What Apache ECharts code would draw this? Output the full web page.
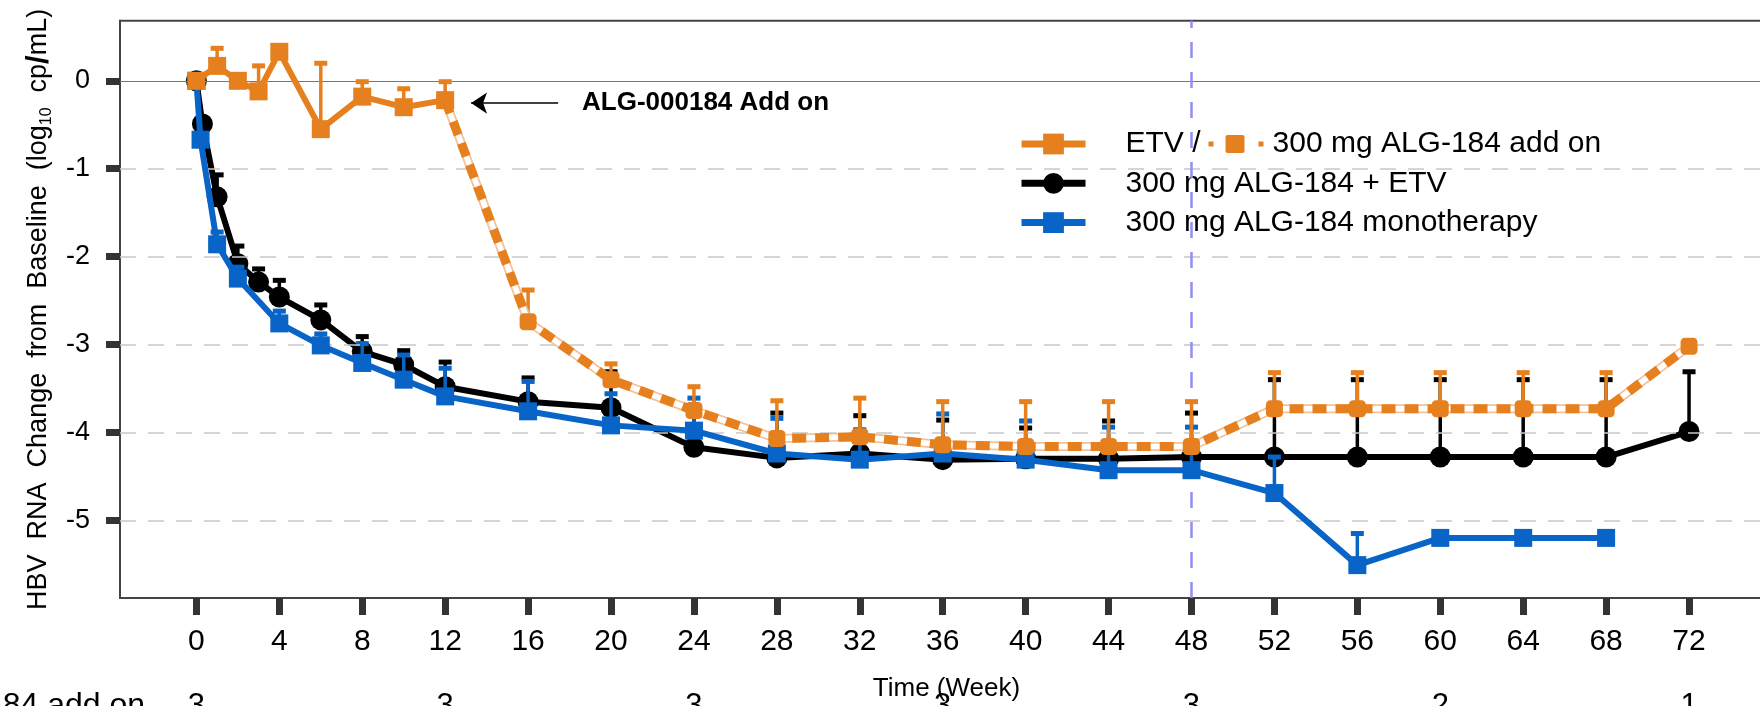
<!DOCTYPE html>
<html><head><meta charset="utf-8">
<script src="https://cdn.jsdelivr.net/npm/echarts@6/dist/echarts.min.js"></script>
<style>html,body{margin:0;padding:0;background:#fff}#c{width:1760px;height:706px}</style>
</head><body><div id="c"></div>
<script>
const FONT = '"Liberation Sans", Arial, sans-serif';
const ORANGE = '#E6801F', BLUE = '#0864C6', BLACK = '#000000';

const weekTicks = [0,4,8,12,16,20,24,28,32,36,40,44,48,52,56,60,64,68,72];
const yTicks = [0,-1,-2,-3,-4,-5];
const gridValues = [-1,-2,-3,-4,-5];
const addOnStartWeek = 48;

const etvWeeks = [0,1,2,3,4,6,8,10,12];
const etvMean  = [0,0.17,0,-0.12,0.33,-0.55,-0.18,-0.30,-0.22];
const etvUpper = [null,0.37,null,0.17,null,0.20,-0.01,-0.09,-0.01];

const addonWeeks = [12,16,20,24,28,32,36,40,44,48,52,56,60,64,68,72];
const addonMean  = [-0.22,-2.74,-3.40,-3.75,-4.07,-4.05,-4.14,-4.16,-4.16,-4.16,-3.73,-3.73,-3.73,-3.73,-3.73,-3.02];
const addonUpper = [null,-2.38,-3.22,-3.48,-3.64,-3.61,-3.65,-3.65,-3.65,-3.65,-3.32,-3.32,-3.32,-3.32,-3.32,null];

const comboWeeks = [0,0.29,1,2,3,4,6,8,10,12,16,20,24,28,32,36,40,44,48,52,56,60,64,68,72];
const comboMean  = [0,-0.49,-1.32,-2.08,-2.29,-2.46,-2.72,-3.08,-3.23,-3.48,-3.65,-3.72,-4.17,-4.29,-4.24,-4.31,-4.30,-4.30,-4.28,-4.28,-4.28,-4.28,-4.28,-4.28,-3.99];
const comboUpper = [null,null,-1.07,-1.88,-2.14,-2.27,-2.55,-2.91,-3.07,-3.20,-3.38,-3.31,-3.75,-3.78,-3.81,-3.86,-3.95,-3.87,-3.78,-3.40,-3.40,-3.40,-3.40,-3.40,-3.31];

const monoWeeks = [0,0.2,1,2,4,6,8,10,12,16,20,24,28,32,36,40,44,48,52,56,60,64,68];
const monoMean  = [0,-0.67,-1.86,-2.25,-2.76,-3.01,-3.21,-3.40,-3.59,-3.76,-3.92,-3.98,-4.24,-4.31,-4.24,-4.31,-4.43,-4.43,-4.69,-5.51,-5.20,-5.20,-5.20];
const monoUpper = [null,null,-1.72,-2.12,-2.62,-2.88,-2.99,-3.12,-3.27,-3.42,-3.56,-3.61,-3.84,-3.97,-3.79,-3.87,-3.94,-3.94,-4.28,-5.15,null,null,null];

const riskWeeks  = [0,12,24,36,48,60,72];
const riskCounts = [3,3,3,3,3,2,1];

const annotation = { text: 'ALG-000184 Add on', fromWeek: 17.45, toWeek: 13.25, value: -0.253 };

function pts(w, m) { return w.map((x, i) => [x, m[i]]); }
function errData(w, m, u) { return w.map((x, i) => [x, m[i], u[i]]).filter(d => d[2] != null); }
function errSeries(data, color, z) {
  return {
    type: 'custom', z: z, silent: true, data: data,
    encode: { x: 0, y: [1, 2] },
    renderItem: function (params, api) {
      const p0 = api.coord([api.value(0), api.value(1)]);
      const p1 = api.coord([api.value(0), api.value(2)]);
      return { type: 'group', children: [
        { type: 'line', shape: { x1: p0[0], y1: p0[1], x2: p1[0], y2: p1[1] }, style: { stroke: color, lineWidth: 3.5 } },
        { type: 'rect', shape: { x: p1[0] - 6.5, y: p1[1] - 2.5, width: 13, height: 5 }, style: { fill: color } }
      ]};
    }
  };
}

const chart = echarts.init(document.getElementById('c'), null, { renderer: 'canvas' });
const xMin = -3.685, xMax = 76.05, yMin = -5.884, yMax = 0.684;

chart.setOption({
  animation: false,
  backgroundColor: '#fff',
  textStyle: { fontFamily: FONT },
  grid: { left: 120, right: -13, top: 20.7, bottom: 108, show: true, borderColor: '#444', borderWidth: 2,
          outerBoundsMode: 'none', containLabel: false },
  legend: {
    data: ['ETV /', '300 mg ALG-184 + ETV', '300 mg ALG-184 monotherapy'],
    orient: 'vertical', left: 1013, top: 124, itemWidth: 64, itemHeight: 26, itemGap: 9.3,
    selectedMode: false,
    lineStyle: { width: 7 },
    textStyle: {
      fontSize: 30, color: '#000', fontFamily: FONT, lineHeight: 30, padding: [0, 0, 0, 35],
      rich: {
        g1: { width: 8 }, g2: { width: 12 }, g3: { width: 14 }, g4: { width: 9 },
        dot: { width: 5, height: 5, backgroundColor: ORANGE },
        sq: { width: 19, height: 18, backgroundColor: ORANGE, borderRadius: 2 }
      }
    },
    formatter: n => n === 'ETV /' ? 'ETV /{g1| }{dot| }{g2| }{sq| }{g3| }{dot| }{g4| }300 mg ALG-184 add on' : n
  },
  xAxis: [{
    type: 'value', min: xMin, max: xMax,
    axisLine: { show: true, onZero: false, lineStyle: { color: '#444', width: 2 } },
    axisTick: { show: true, customValues: weekTicks, length: 17, lineStyle: { color: '#333', width: 7 } },
    axisLabel: { customValues: weekTicks, fontSize: 30, color: '#000', margin: 29, fontFamily: FONT },
    splitLine: { show: false },
    name: 'Time (Week)', nameLocation: 'middle', nameGap: 78,
    nameTextStyle: { fontSize: 26, color: '#000', fontFamily: FONT }
  }, {
    type: 'value', min: xMin, max: xMax, position: 'bottom',
    axisLine: { show: false, onZero: false }, axisTick: { show: false }, splitLine: { show: false },
    axisLabel: { customValues: riskWeeks, fontSize: 31, color: '#000', margin: 93, fontFamily: FONT,
      formatter: v => String(riskCounts[riskWeeks.indexOf(v)]) }
  }],
  yAxis: {
    type: 'value', min: yMin, max: yMax,
    axisLine: { show: true, onZero: false, lineStyle: { color: '#444', width: 2 } },
    axisTick: { show: true, customValues: yTicks, length: 14, lineStyle: { color: '#333', width: 7 } },
    axisLabel: { customValues: yTicks, fontSize: 27, color: '#000', margin: 30, fontFamily: FONT },
    splitLine: { show: false },
    name: '{t|HBV  RNA  Change  from  Baseline  (log}{s|10}{t|  cp}{b|/}{t|mL)}',
    nameLocation: 'middle', nameGap: 65, nameRotate: 90,
    nameTextStyle: { color: '#000', fontFamily: FONT, fontSize: 27,
      rich: { t: { fontSize: 27, lineHeight: 32 }, s: { fontSize: 16, lineHeight: 16, verticalAlign: 'bottom' },
              b: { fontSize: 31, fontWeight: 'bold', lineHeight: 32 } } }
  },
  series: [
    { type: 'line', data: [], z: 1, silent: true,
      markLine: { silent: true, symbol: ['none', 'none'], label: { show: false }, animation: false,
        data: gridValues.map(v => ({ yAxis: v, lineStyle: { color: '#c8c8c8', width: 1.6, type: [16, 12] } }))
          .concat([{ yAxis: 0, lineStyle: { color: '#777', width: 1.2, type: 'solid' } },
                   { xAxis: addOnStartWeek, lineStyle: { color: '#8f8ff5', width: 2.5, type: [16, 14] } }]) } },
    errSeries(errData(comboWeeks, comboMean, comboUpper), BLACK, 2),
    { name: '300 mg ALG-184 + ETV', type: 'line', z: 3, data: pts(comboWeeks, comboMean),
      symbol: 'circle', symbolSize: 21, lineStyle: { color: BLACK, width: 6 }, itemStyle: { color: BLACK } },
    errSeries(errData(monoWeeks, monoMean, monoUpper), BLUE, 4),
    { name: '300 mg ALG-184 monotherapy', type: 'line', z: 5, data: pts(monoWeeks, monoMean),
      symbol: 'rect', symbolSize: 18, lineStyle: { color: BLUE, width: 6 }, itemStyle: { color: BLUE } },
    errSeries(errData(etvWeeks, etvMean, etvUpper).concat(errData(addonWeeks, addonMean, addonUpper)), ORANGE, 6),
    { type: 'line', z: 7, silent: true, data: pts(addonWeeks, addonMean), showSymbol: false,
      lineStyle: { color: '#f3c29a', width: 9 } },
    { type: 'line', z: 8, silent: true, data: pts(addonWeeks, addonMean), showSymbol: false,
      lineStyle: { color: '#ffffff', width: 5.5 } },
    { type: 'line', z: 9, silent: true, data: pts(addonWeeks, addonMean),
      symbol: 'roundRect', symbolSize: 17, lineStyle: { color: ORANGE, width: 9, type: [14, 9] }, itemStyle: { color: ORANGE } },
    { name: 'ETV /', type: 'line', z: 10, data: pts(etvWeeks, etvMean),
      symbol: 'rect', symbolSize: 18, lineStyle: { color: ORANGE, width: 6 }, itemStyle: { color: ORANGE },
      markLine: { silent: true, symbol: ['none', 'arrow'], symbolSize: 16, label: { show: false },
        lineStyle: { color: '#000', width: 1.5, type: 'solid' },
        data: [[{ coord: [annotation.fromWeek, annotation.value] }, { coord: [annotation.toWeek, annotation.value] }]] } }
  ],
  graphic: [
    { type: 'text', x: 582, y: 103, silent: true,
      style: { text: annotation.text, fontSize: 26, fontWeight: 'bold', fontFamily: FONT, fill: '#000',
               align: 'left', verticalAlign: 'middle', textAlign: 'left', textVerticalAlign: 'middle' } },
    { type: 'text', x: 145, y: 690, silent: true,
      style: { text: 'ALG-184 add on', fontSize: 32, fontFamily: FONT, fill: '#000',
               align: 'right', verticalAlign: 'top', textAlign: 'right', textVerticalAlign: 'top' } }
  ]
});
</script></body></html>
